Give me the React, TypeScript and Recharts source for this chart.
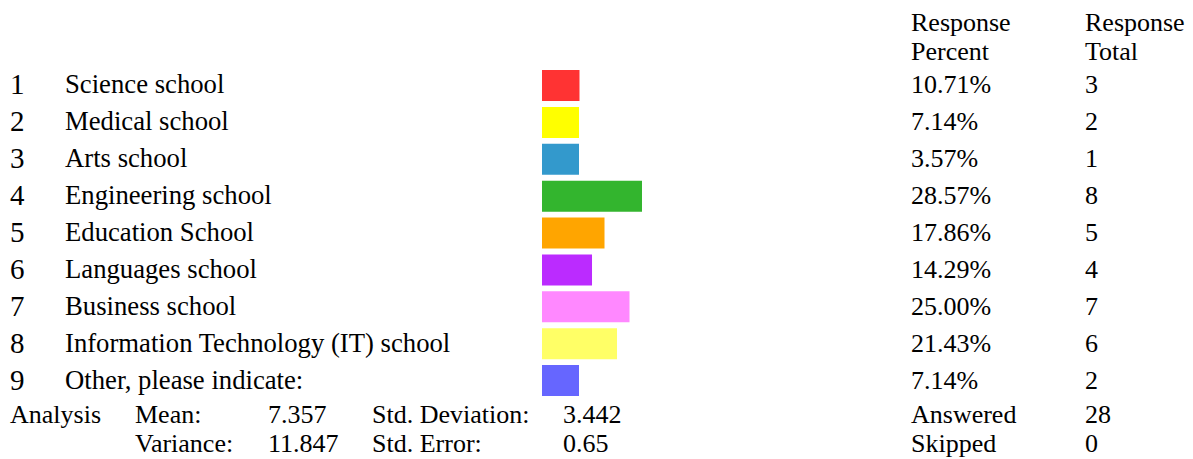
import React from 'react';
import { BarChart, Bar, XAxis, YAxis, Cell } from 'recharts';

const categories = [
  'Science school',
  'Medical school',
  'Arts school',
  'Engineering school',
  'Education School',
  'Languages school',
  'Business school',
  'Information Technology (IT) school',
  'Other, please indicate:',
];
const percents = [10.71, 7.14, 3.57, 28.57, 17.86, 14.29, 25.0, 21.43, 7.14];
const totals = [3, 2, 1, 8, 5, 4, 7, 6, 2];
const colors = ['#ff3333', '#ffff00', '#3399cc', '#33b52e', '#ffa500', '#bb2bff', '#ff88ff', '#ffff66', '#6666ff'];

const headerLines = [['Response', 'Response'], ['Percent', 'Total']];
const statsLeft = [
  ['Mean:', '7.357', 'Std. Deviation:', '3.442'],
  ['Variance:', '11.847', 'Std. Error:', '0.65'],
];
const statsRight = [['Answered', '28'], ['Skipped', '0']];

const data = categories.map((name, i) => ({
  name,
  rank: String(i + 1),
  percent: percents[i],
  total: totals[i],
}));

const W = 1193;
const H = 459;
const FONT = '"Liberation Serif", "Times New Roman", serif';
const FS = 26;
const COL_PCT = 911;
const COL_TOT = 1085;

const renderRowTick = (props: any) => {
  const { y, payload } = props;
  const idx = categories.indexOf(payload && payload.value);
  if (idx < 0) return <g />;
  const d = data[idx];
  const by = y + 8;
  return (
    <g fontFamily={FONT} fontSize={FS}>
      <text x={10} y={by + 1} fontSize={29} fill="#000">{d.rank}</text>
      <text x={65} y={by} fontSize={26.7} fill="#000">{d.name}</text>
      <text x={COL_PCT} y={by} fill="#000">{d.percent.toFixed(2) + '%'}</text>
      <text x={COL_TOT} y={by} fill="#000">{String(d.total)}</text>
    </g>
  );
};

export default function App() {
  return (
    <div style={{ position: 'absolute', left: 0, top: 0, width: W, height: H, background: '#fff' }}>
      <BarChart
        width={W}
        height={H}
        data={data}
        layout="vertical"
        margin={{ top: 67, right: W - 892, bottom: H - 399, left: 541 }}
        barCategoryGap={0}
        style={{ overflow: 'visible' }}
      >
        <XAxis type="number" domain={[0, 100]} hide />
        <YAxis
          type="category"
          dataKey="name"
          width={1}
          axisLine={false}
          tickLine={false}
          tick={renderRowTick}
          interval={0}
        />
        <Bar dataKey="percent" barSize={31} minPointSize={37} isAnimationActive={false}>
          {data.map((d, i) => (
            <Cell key={i} fill={colors[i]} />
          ))}
        </Bar>
      </BarChart>
      <svg
        width={W}
        height={H}
        style={{ position: 'absolute', left: 0, top: 0, pointerEvents: 'none' }}
        fontFamily={FONT}
        fontSize={FS}
      >
        {headerLines.map((line, r) => (
          <g key={r}>
            <text x={COL_PCT} y={31 + r * 29}>{line[0]}</text>
            <text x={COL_TOT} y={31 + r * 29}>{line[1]}</text>
          </g>
        ))}
        <text x={10} y={423}>Analysis</text>
        {statsLeft.map((row, r) => (
          <g key={r}>
            <text x={135} y={423 + r * 29}>{row[0]}</text>
            <text x={268} y={423 + r * 29}>{row[1]}</text>
            <text x={372} y={423 + r * 29}>{row[2]}</text>
            <text x={563} y={423 + r * 29}>{row[3]}</text>
          </g>
        ))}
        {statsRight.map((row, r) => (
          <g key={r}>
            <text x={COL_PCT} y={423 + r * 29}>{row[0]}</text>
            <text x={COL_TOT} y={423 + r * 29}>{row[1]}</text>
          </g>
        ))}
      </svg>
    </div>
  );
}
